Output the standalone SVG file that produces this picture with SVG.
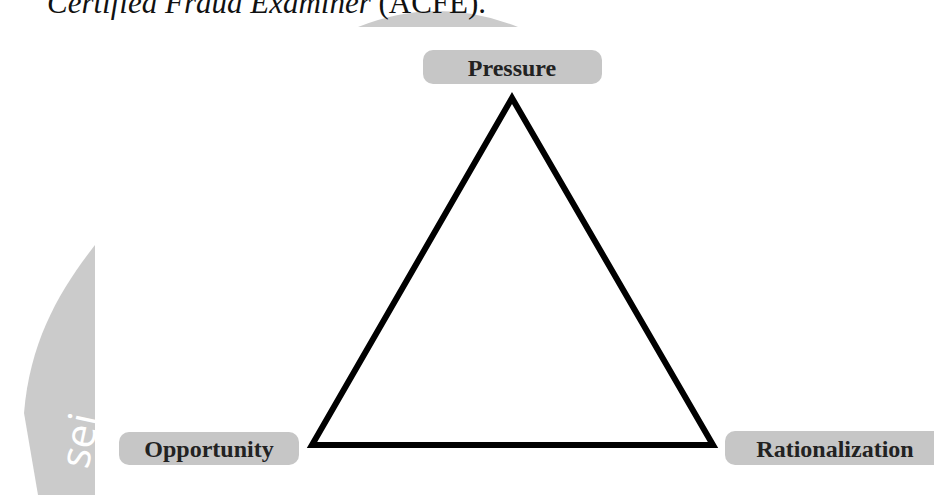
<svg xmlns="http://www.w3.org/2000/svg" width="934" height="495" viewBox="0 0 934 495">
  <style>
    .box { fill: #c6c6c6; }
    .lbl { font-family: "Liberation Serif", "Times New Roman", serif; font-weight: bold; font-size: 24px; fill: #222; text-anchor: middle; }
    .wm { fill: #cbcbcb; }
    .edge { fill: none; stroke: #000; stroke-width: 6; stroke-linejoin: miter; }
  </style>
  <rect width="934" height="495" fill="#fff"/>
  <g id="watermark">
    <path class="wm" d="M358,27 Q438,-5 518,27 Z"/>
    <path class="wm" d="M95,245 C60,290 30,340 24,413 L38,495 L95,495 Z"/>
    <text x="0" y="0" transform="translate(88,470) rotate(-78)" font-family="'Open Sans', 'DejaVu Sans', sans-serif" font-size="42" fill="#fff">sei</text>
  </g>
  <rect x="95" y="27" width="839" height="468" fill="#fff"/>
  <text x="47" y="13" font-family="'Liberation Serif', 'Times New Roman', serif" font-size="31" fill="#111"><tspan font-style="italic">Certified Fraud Examiner</tspan> (ACFE).</text>
  <g id="connectors">
    <polygon class="edge" points="512,98 713,445 312,445"/>
  </g>
  <g id="pressure">
    <rect class="box" x="423" y="50" width="179" height="34" rx="10"/>
    <text class="lbl" x="512" y="76">Pressure</text>
  </g>
  <g id="opportunity">
    <rect class="box" x="119" y="432" width="180" height="33" rx="10"/>
    <text class="lbl" x="209" y="457">Opportunity</text>
  </g>
  <g id="rationalization">
    <rect class="box" x="725" y="431" width="225" height="34" rx="10"/>
    <text class="lbl" x="835" y="457">Rationalization</text>
  </g>
</svg>
